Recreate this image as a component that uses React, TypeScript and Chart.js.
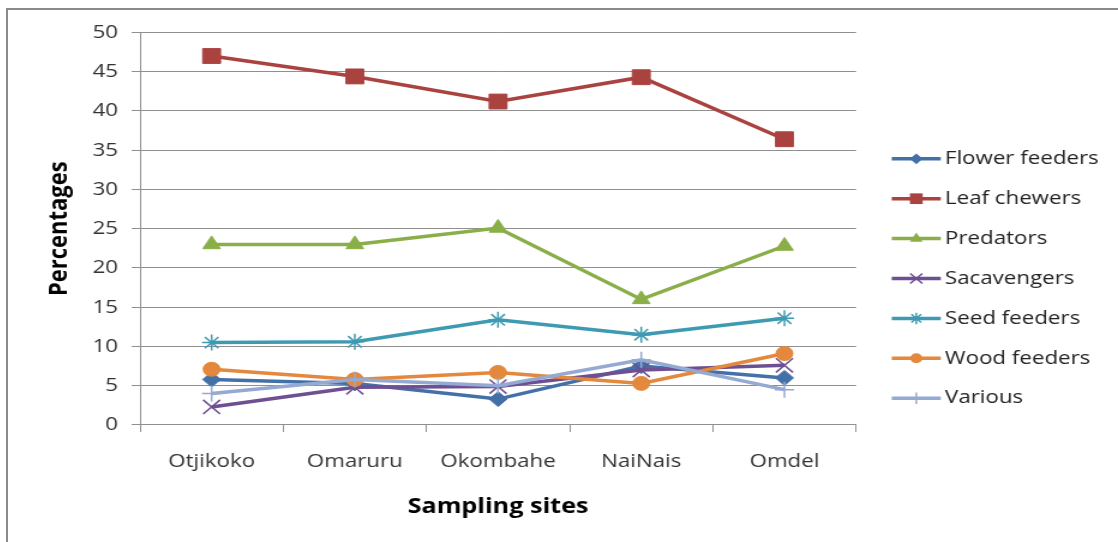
import React, { useEffect, useRef } from 'react';
import { Chart, registerables } from 'chart.js';

Chart.register(...registerables);

// ---- data ----
const sites = ['Otjikoko', 'Omaruru', 'Okombahe', 'NaiNais', 'Omdel'];
const flowerFeeders = [5.8, 5.3, 3.3, 7.5, 6.0];
const leafChewers = [47.0, 44.4, 41.2, 44.3, 36.4];
const predators = [23.0, 23.0, 25.1, 16.0, 22.8];
const sacavengers = [2.3, 4.8, 4.9, 7.0, 7.6];
const seedFeeders = [10.5, 10.6, 13.4, 11.5, 13.6];
const woodFeeders = [7.1, 5.8, 6.7, 5.3, 9.1];
const various = [4.0, 5.8, 5.0, 8.3, 4.5];

const seriesNames = ['Flower feeders', 'Leaf chewers', 'Predators', 'Sacavengers', 'Seed feeders', 'Wood feeders', 'Various'];
const seriesValues = [flowerFeeders, leafChewers, predators, sacavengers, seedFeeders, woodFeeders, various];
const seriesColors = ['#4470A8', '#AA4340', '#8AAE48', '#6E4F92', '#3E9AB3', '#E3883C', '#94AAD2'];
const seriesMarkers = ['rectRot', 'rect', 'triangle', 'crossRot', 'star', 'circle', 'cross'];
const markerRadius = [7.5, 10.5, 8.5, 10, 8, 7, 8];

const yMin = 0;
const yMax = 50;
const yStep = 5;

// ---- layout ----
const STRETCH = 1.2;
const W = 925;
const H = 532;
const FONT = '"Open Sans", "DejaVu Sans", sans-serif';

function drawMarker(ctx: CanvasRenderingContext2D, style: string, x: number, y: number, r: number, color: string) {
  ctx.save();
  ctx.fillStyle = color;
  ctx.strokeStyle = color;
  ctx.lineWidth = 1.5;
  ctx.beginPath();
  switch (style) {
    case 'rectRot':
      ctx.moveTo(x - r, y); ctx.lineTo(x, y - r); ctx.lineTo(x + r, y); ctx.lineTo(x, y + r); ctx.closePath(); ctx.fill();
      break;
    case 'rect': {
      const s = r * Math.SQRT1_2;
      ctx.rect(x - s, y - s, 2 * s, 2 * s); ctx.fill();
      break;
    }
    case 'triangle': {
      const a = Math.PI * 2 / 3;
      ctx.moveTo(x, y - r);
      ctx.lineTo(x + Math.sin(a) * r, y - Math.cos(a) * r);
      ctx.lineTo(x + Math.sin(2 * a) * r, y - Math.cos(2 * a) * r);
      ctx.closePath(); ctx.fill();
      break;
    }
    case 'circle':
      ctx.arc(x, y, r, 0, Math.PI * 2); ctx.fill();
      break;
    case 'crossRot': {
      const s = r * Math.SQRT1_2;
      ctx.moveTo(x - s, y - s); ctx.lineTo(x + s, y + s);
      ctx.moveTo(x - s, y + s); ctx.lineTo(x + s, y - s);
      ctx.stroke();
      break;
    }
    case 'star': {
      const s = r * Math.SQRT1_2;
      ctx.moveTo(x - s, y - s); ctx.lineTo(x + s, y + s);
      ctx.moveTo(x - s, y + s); ctx.lineTo(x + s, y - s);
      ctx.moveTo(x, y - r); ctx.lineTo(x, y + r);
      ctx.moveTo(x - r, y); ctx.lineTo(x + r, y);
      ctx.stroke();
      break;
    }
    case 'cross':
      ctx.moveTo(x, y - r); ctx.lineTo(x, y + r);
      ctx.moveTo(x - r, y); ctx.lineTo(x + r, y);
      ctx.stroke();
      break;
  }
  ctx.restore();
}

const sideLegend = {
  id: 'sideLegend',
  afterDraw(chart: any) {
    const ctx: CanvasRenderingContext2D = chart.ctx;
    ctx.save();
    chart.data.datasets.forEach((ds: any, i: number) => {
      const y = 148.8 + i * 39.9;
      ctx.strokeStyle = ds.borderColor;
      ctx.lineWidth = 3.5;
      ctx.beginPath();
      ctx.moveTo(736.4, y);
      ctx.lineTo(777.3, y);
      ctx.stroke();
      drawMarker(ctx, ds.pointStyle, 756.9, y, ds.pointRadius * 0.72, ds.borderColor);
      ctx.fillStyle = '#222222';
      ctx.font = `18.6px ${FONT}`;
      ctx.textBaseline = 'middle';
      ctx.textAlign = 'left';
      ctx.fillText(ds.label, 780.8, y);
    });
    ctx.restore();
  },
};

export default function App() {
  const canvasRef = useRef<HTMLCanvasElement | null>(null);

  useEffect(() => {
    if (!canvasRef.current) return;
    const gridColor = '#909090';
    const chart = new Chart(canvasRef.current, {
      type: 'line',
      data: {
        labels: sites,
        datasets: seriesNames.map((name, i) => ({
          label: name,
          data: seriesValues[i],
          borderColor: seriesColors[i],
          backgroundColor: seriesColors[i],
          borderWidth: 3.5,
          pointStyle: seriesMarkers[i] as any,
          pointRadius: markerRadius[i],
          pointHoverRadius: markerRadius[i],
          pointBackgroundColor: seriesColors[i],
          pointBorderColor: seriesColors[i],
          pointBorderWidth: ['crossRot', 'star', 'cross'].includes(seriesMarkers[i]) ? 1.5 : 1,
          tension: 0,
          fill: false,
          clip: false as any,
          order: seriesNames.length - i,
        })),
      },
      options: {
        responsive: false,
        animation: false,
        devicePixelRatio: 1,
        layout: { padding: { top: 22, right: W - 706.7, left: 0, bottom: 0 } },
        plugins: {
          legend: { display: false },
          tooltip: { enabled: false },
          title: { display: false },
        },
        scales: {
          x: {
            type: 'category',
            offset: true,
            grid: {
              display: true,
              drawOnChartArea: false,
              drawTicks: true,
              tickLength: 7,
              offset: true,
              color: gridColor,
              lineWidth: 1,
            },
            border: { display: true, color: gridColor, width: 1 },
            ticks: {
              color: '#333333',
              font: { family: FONT, size: 18.6 },
              padding: 18.5,
              maxRotation: 0,
              autoSkip: false,
            },
            title: {
              display: true,
              text: 'Sampling sites',
              color: '#000000',
              font: { family: FONT, size: 21, weight: 'bold' },
              padding: { top: 0, bottom: 22.4 },
            },
            afterFit: (scale: any) => { scale.height = H - 415; },
          },
          y: {
            min: yMin,
            max: yMax,
            grid: {
              display: true,
              drawTicks: true,
              tickLength: 7,
              color: gridColor,
              lineWidth: 1,
            },
            border: { display: true, color: gridColor, width: 1 },
            ticks: {
              stepSize: yStep,
              color: '#333333',
              font: { family: FONT, size: 18.6 },
              padding: 11.3,
            },
            title: {
              display: true,
              text: 'Percentages',
              color: '#000000',
              font: { family: FONT, size: 22, weight: 'bold' },
              padding: { top: 30, bottom: 0 },
            },
            afterFit: (scale: any) => { scale.width = 110; },
          },
        },
      },
      plugins: [sideLegend],
    });
    return () => chart.destroy();
  }, []);

  return (
    <div
      style={{
        position: 'absolute',
        left: 6,
        top: 8,
        width: 1112,
        height: 534,
        borderTop: '2px solid #8a8a8a',
        borderLeft: '2px solid #8a8a8a',
        boxSizing: 'border-box',
        overflow: 'hidden',
        background: '#ffffff',
      }}
    >
      <canvas
        ref={canvasRef}
        width={W}
        height={H}
        style={{
          display: 'block',
          width: W,
          height: H,
          transform: `scaleX(${STRETCH})`,
          transformOrigin: '0 0',
        }}
      />
    </div>
  );
}
